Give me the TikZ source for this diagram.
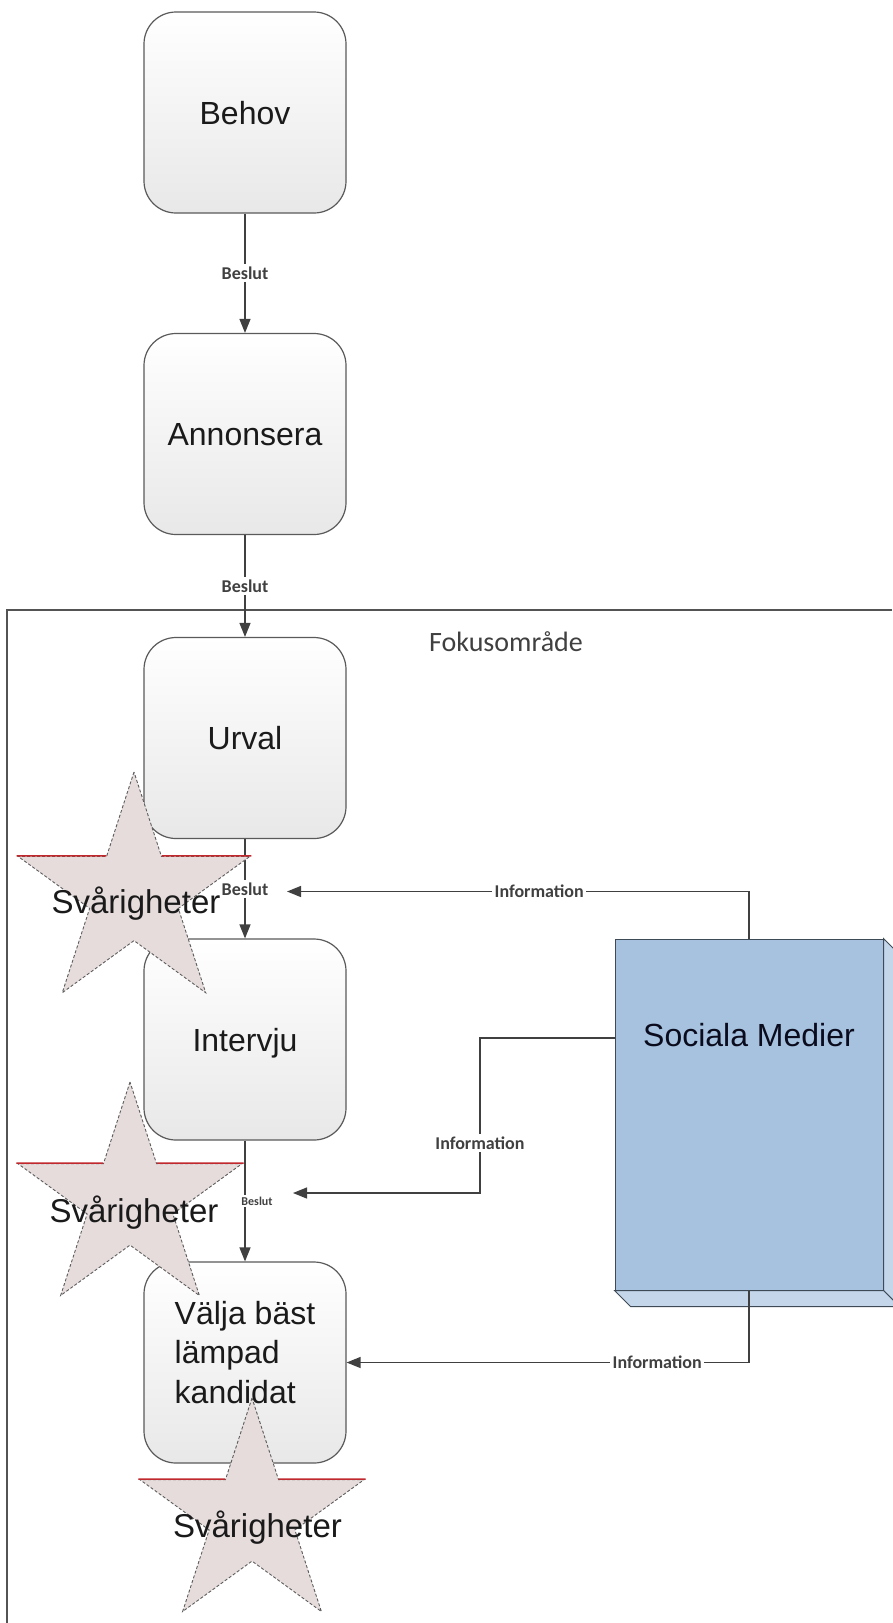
\documentclass[tikz,border=0pt]{standalone}
\usepackage{fontspec}
\setmainfont{Liberation Sans}
\newfontfamily\lblfont{Carlito}
\usetikzlibrary{arrows.meta,shapes.geometric}
\definecolor{linec}{HTML}{404040}
\definecolor{boxb}{HTML}{5A5A5A}
\definecolor{boxbot}{HTML}{E8E8E8}
\definecolor{smfill}{HTML}{A6C2DE}
\definecolor{smside}{HTML}{C3D6EA}
\definecolor{smedge}{HTML}{3E4A56}
\definecolor{starfill}{HTML}{E6DCDC}
\definecolor{stared}{HTML}{C0282D}
\definecolor{txt}{HTML}{1A1A1A}
\begin{document}
\begin{tikzpicture}[x=1pt,y=-1pt,
  procbox/.style={rectangle, rounded corners=32pt, draw=boxb, line width=1.2pt,
    top color=white, bottom color=boxbot, minimum width=202pt, minimum height=201pt,
    inner sep=0pt, font=\fontsize{32}{38}\selectfont, text=txt},
  oneline/.style={text height=23pt, text depth=0pt},
  conn/.style={draw=linec, line width=1.3pt, -{Triangle[width=11pt,length=14pt]}},
  lbl/.style={fill=white, inner sep=2.5pt, font=\lblfont\bfseries\fontsize{18}{20}\selectfont, text=linec},
  starshape/.style={star, star points=5, star point ratio=2.618, minimum size=#1,
    inner sep=0pt, fill=starfill, draw=linec!85, dash pattern=on 3pt off 2pt, line width=0.9pt},
  redarm/.style={draw=stared, line width=1.3pt},
  startext/.style={inner sep=0pt, font=\fontsize{33}{38}\selectfont, text=txt, text height=24pt, text depth=0pt}
]
\fill[white] (0,0) rectangle (892,1623);
\useasboundingbox (0,0) rectangle (892,1623);

% frame
\coordinate (frTR) at (892,610);
\coordinate (frTL) at (7,610);
\coordinate (frBL) at (7,1623);
\draw[draw=linec!90, line width=1.2pt] (frTR) -- (frTL) -- (frBL);
\node[font=\lblfont\fontsize{28}{32}\selectfont, text=linec] (fokus) at (506,642) {Fokusområde};

% process boxes
\node[procbox,oneline] (behov) at (245,112.5) {Behov};
\node[procbox,oneline] (annonsera) at (245,434) {Annonsera};
\node[procbox,oneline] (urval) at (245,738) {Urval};
\node[procbox,oneline] (intervju) at (245,1039.5) {Intervju};
\node[procbox, align=left, font=\fontsize{32}{39.5}\selectfont] (valja) at (245,1362.5)
  {Välja bäst\\lämpad\\kandidat\rule[-21pt]{0pt}{1pt}};

% Sociala Medier 3D box
\node[draw=smedge, fill=smfill, line width=1pt, minimum width=268pt, minimum height=351pt,
  inner sep=0pt, font=\fontsize{32}{38}\selectfont, text=txt!85!blue!50!black,
  text height=23pt, text depth=159pt] (sm) at (749,1114.5) {Sociala Medier};
\filldraw[fill=smside, draw=smedge, line width=1pt] (sm.north east)
  -- ([shift={(16pt,-16pt)}]sm.north east) -- ([shift={(16pt,-16pt)}]sm.south east)
  -- (sm.south east) -- cycle;
\filldraw[fill=smside, draw=smedge, line width=1pt] (sm.south west)
  -- ([shift={(16pt,-16pt)}]sm.south west) -- ([shift={(16pt,-16pt)}]sm.south east)
  -- (sm.south east) -- cycle;

% Beslut connectors
\draw[conn] (behov) -- node[lbl,pos=0.5] {Beslut} (annonsera);
\draw[conn] (annonsera) -- node[lbl,pos=0.5] {Beslut} (urval);
\draw[conn] (urval) -- node[lbl,pos=0.5] {Beslut} (intervju);
\draw[conn] (intervju) -- node[lbl,pos=0.5,xshift=12pt,inner sep=1.5pt,
  font=\lblfont\bfseries\fontsize{12}{14}\selectfont] {Beslut} (valja);

% Information connectors
\coordinate (t1) at (287,891.5);
\draw[conn] (sm.north) |- node[lbl,pos=0.727] {Information} (t1);
\coordinate (k2) at (480,1193);
\coordinate (t2) at (293,1193);
\draw[conn] ([yshift=76.5pt]sm.west) -| node[lbl,pos=0.839] {Information} (k2) -- (t2);
\draw[conn] (sm.south) |- node[lbl,pos=0.614] {Information} (valja.east);

% stars
\node[starshape=244pt] (s1) at (134,894) {};
\draw[redarm] (s1.outer point 2) -- (s1.inner point 1) (s1.inner point 5) -- (s1.outer point 5);
\node[startext] (s1t) at (136,901) {Svårigheter};

\node[starshape=236pt] (s2) at (130,1200) {};
\draw[redarm] (s2.outer point 2) -- (s2.inner point 1) (s2.inner point 5) -- (s2.outer point 5);
\node[startext] (s2t) at (134,1210) {Svårigheter};

\node[starshape=236pt] (s3) at (252,1516) {};
\draw[redarm] (s3.outer point 2) -- (s3.inner point 1) (s3.inner point 5) -- (s3.outer point 5);
\node[startext] (s3t) at (257.5,1525) {Svårigheter};
\end{tikzpicture}
\end{document}
